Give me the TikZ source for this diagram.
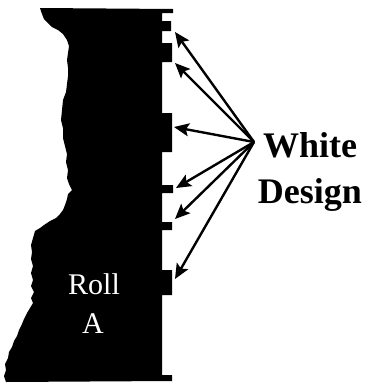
\documentclass[tikz,border=0pt]{standalone}
\usepackage{fontspec}
\setmainfont{Liberation Serif}
\usetikzlibrary{arrows.meta}
\tikzset{
  rollshape/.style={fill=black, draw=none},
  arr/.style={line width=2.4pt, -{Stealth[length=15pt,width=13pt,inset=3pt]}},
  rolllabel/.style={text=white, font=\fontsize{30}{39}\selectfont, anchor=base, inner sep=0pt},
  designlabel/.style={text=black, font=\bfseries\fontsize{36}{46}\selectfont, anchor=base, inner sep=0pt}
}
\begin{document}
\begin{tikzpicture}[x=1pt,y=-1pt]
\useasboundingbox (0,0) rectangle (368,386);
% roll outline
\fill[rollshape]
 (40,8) -- (173,9) -- (173,13) -- (162,13) -- (162,21) -- (171,21) -- (171,31) -- (162,31)
 -- (162,43) -- (172,43) -- (172,62) -- (162,62) -- (162,113) -- (172,113) -- (172,152)
 -- (162,152) -- (162,185) -- (173,185) -- (173,193) -- (162,193) -- (162,222) -- (172,222)
 -- (172,230) -- (162,230) -- (162,270) -- (172,270) -- (172,295) -- (162,295) -- (162,375)
 -- (172,375) -- (172,381) -- (6,382)
 -- (4,376) -- (6,370) -- (5,364) -- (8,358) -- (9,352) -- (12,347) -- (14,341) -- (17,336)
 -- (19,330) -- (22,324) -- (24,319) -- (27,313) -- (30,308) -- (33,303) -- (31,298)
 -- (34,292) -- (31,286) -- (33,280) -- (31,273) -- (33,266) -- (31,259) -- (32,252)
 -- (31,245) -- (33,238) -- (35,231) -- (40,228) -- (44,225) -- (50,221) -- (56,218)
 -- (60,214) -- (63,210) -- (65,205) -- (67,199) -- (68,194) -- (72,190) -- (69,184)
 -- (67,178) -- (68,170) -- (66,162) -- (67,154) -- (65,146) -- (63,138) -- (63,128)
 -- (61,120) -- (62,110) -- (63,100) -- (66,92) -- (67,84) -- (68,76) -- (68,68)
 -- (67,60) -- (68,53) -- (69,46) -- (67,40) -- (63,34) -- (58,30) -- (52,27) -- (48,23)
 -- (44,19) -- (42,14) -- cycle;
% labels
\node[rolllabel] (roll) at (94,294) {Roll};
\node[rolllabel] (rolla) at (93,333) {A};
\node[designlabel] (white) at (310,157) {White};
\node[designlabel] (design) at (310,203) {Design};
% arrows
\coordinate (src) at (254,142);
\coordinate (t1) at (175,32);
\coordinate (t2) at (175,63);
\coordinate (t3) at (174,127);
\coordinate (t4) at (176,188);
\coordinate (t5) at (175,219);
\coordinate (t6) at (175,279);
\foreach \t in {t1,t2,t3,t4,t5,t6}{\draw[arr] (src) -- (\t);}
\end{tikzpicture}
\end{document}
